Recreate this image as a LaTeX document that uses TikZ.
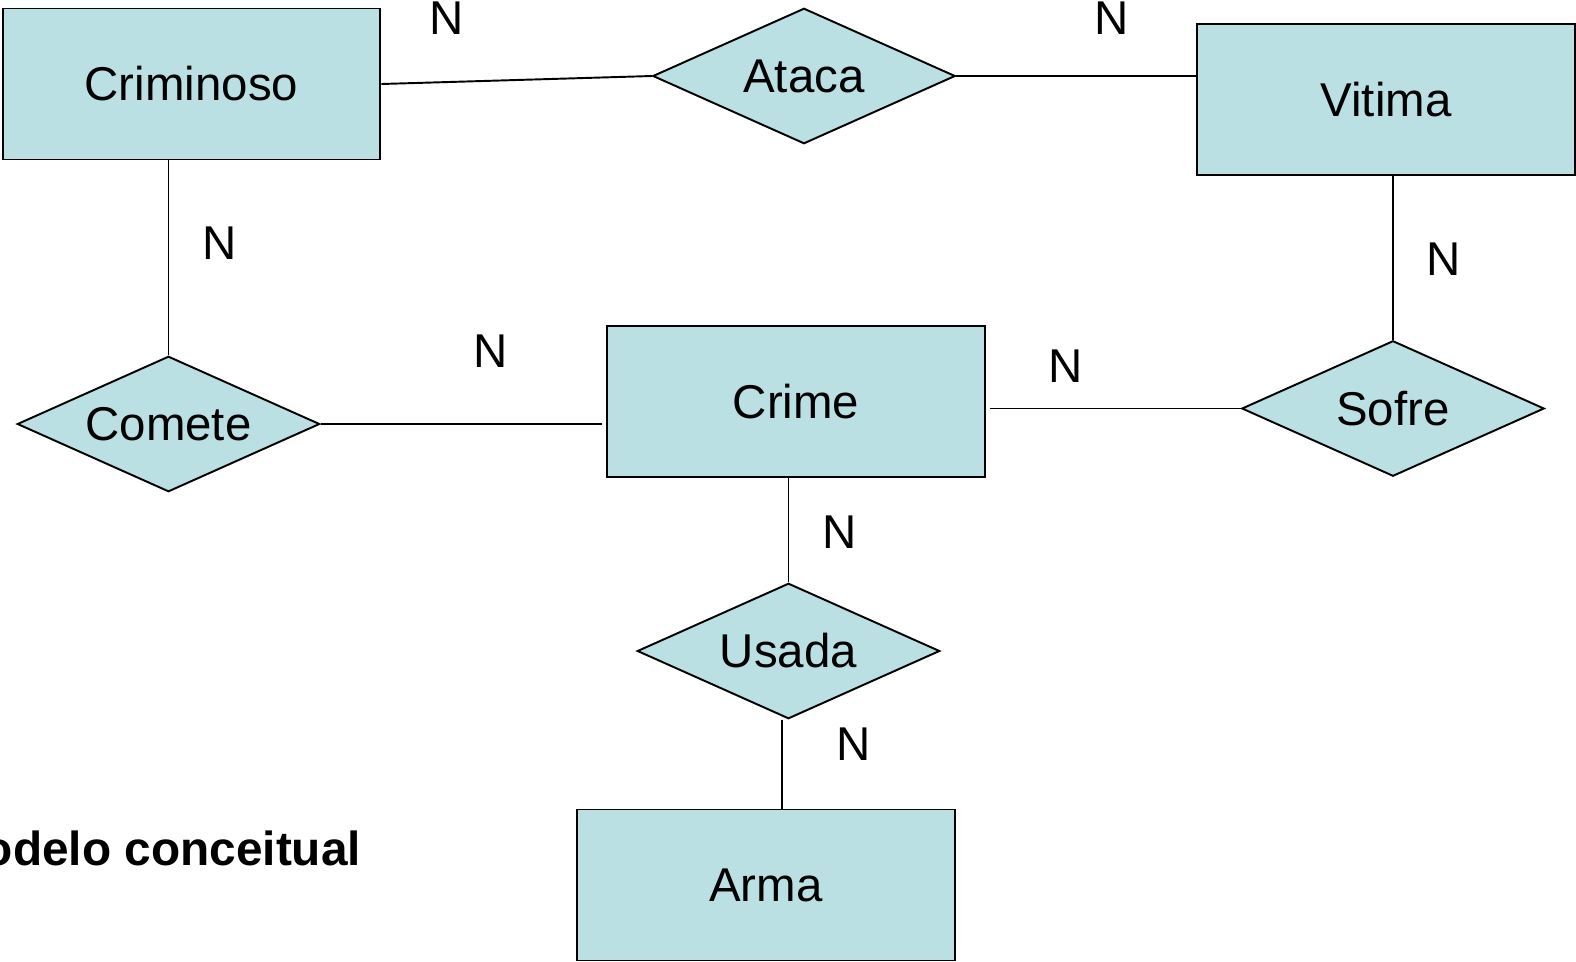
\documentclass[tikz,border=0pt]{standalone}
\usepackage{fontspec}
\setmainfont{Liberation Sans}
\usetikzlibrary{shapes.geometric}
\definecolor{erblue}{RGB}{187,224,227}

\begin{document}
\begin{tikzpicture}[x=0.02cm,y=-0.02cm,line width=1.1pt,
            entity/.style={
                draw=black,
                fill=erblue,
                rectangle,
                minimum width=7.56cm,
                minimum height=3.02cm,
                inner sep=0pt,
                font={\fontsize{27}{32}\selectfont}},
            relation/.style={
                draw=black,
                fill=erblue,
                diamond,
                aspect=2.22,
                minimum width=6.05cm,
                minimum height=2.71cm,
                inner sep=0pt,
                font={\fontsize{27}{32}\selectfont}},
            card/.style={font={\fontsize{27}{32}\selectfont},inner sep=0pt},
        ]
        \useasboundingbox (0,0) rectangle (1576,961);

        % entities
        \node[entity] (Criminoso) at (191.5,84) {Criminoso};
        \node[entity] (Vitima) at (1386,99.5) {Vitima};
        \node[entity] (Crime) at (796,401.5) {Crime};
        \node[entity] (Arma) at (766,885) {Arma};

        % relationships
        \node[relation] (Ataca) at (804,76) {Ataca};
        \node[relation] (Comete) at (168.5,424) {Comete};
        \node[relation] (Sofre) at (1393,408.5) {Sofre};
        \node[relation] (Usada) at (788.5,651) {Usada};

        \draw (Criminoso.east) -- (Ataca.west);
        \draw (Ataca.east) -- (Ataca.east -| Vitima.west);
        \draw (Comete.north) -- (Comete.north |- Criminoso.south);
        \draw (Comete.east) -- ([xshift=-0.08cm]Comete.east -| Crime.west);
        \draw ([xshift=0.08cm]Sofre.west -| Crime.east) -- (Sofre.west);
        \draw (Sofre.north) -- (Sofre.north |- Vitima.south);
        \draw (Usada.north) -- (Usada.north |- Crime.south);
        \coordinate (UsadaFoot) at ([xshift=-0.13cm]Usada.south);
        \draw (UsadaFoot) -- (UsadaFoot |- Arma.north);

        % cardinalities
        \node[card] (nAtacaL) at (447,18.5) {N};
        \node[card] (nAtacaR) at (1112,18.5) {N};
        \node[card] (nCometeU) at (220,243) {N};
        \node[card] (nSofreU) at (1444,259) {N};
        \node[card] (nCometeR) at (491,351) {N};
        \node[card] (nSofreL) at (1066,366) {N};
        \node[card] (nUsadaU) at (840,532) {N};
        \node[card] (nUsadaD) at (854,744) {N};

        \node[anchor=base east,inner sep=0pt,font={\fontsize{27.2}{32}\selectfont\bfseries}] (Titulo) at (362,865) {odelo conceitual};
\end{tikzpicture}
\end{document}
